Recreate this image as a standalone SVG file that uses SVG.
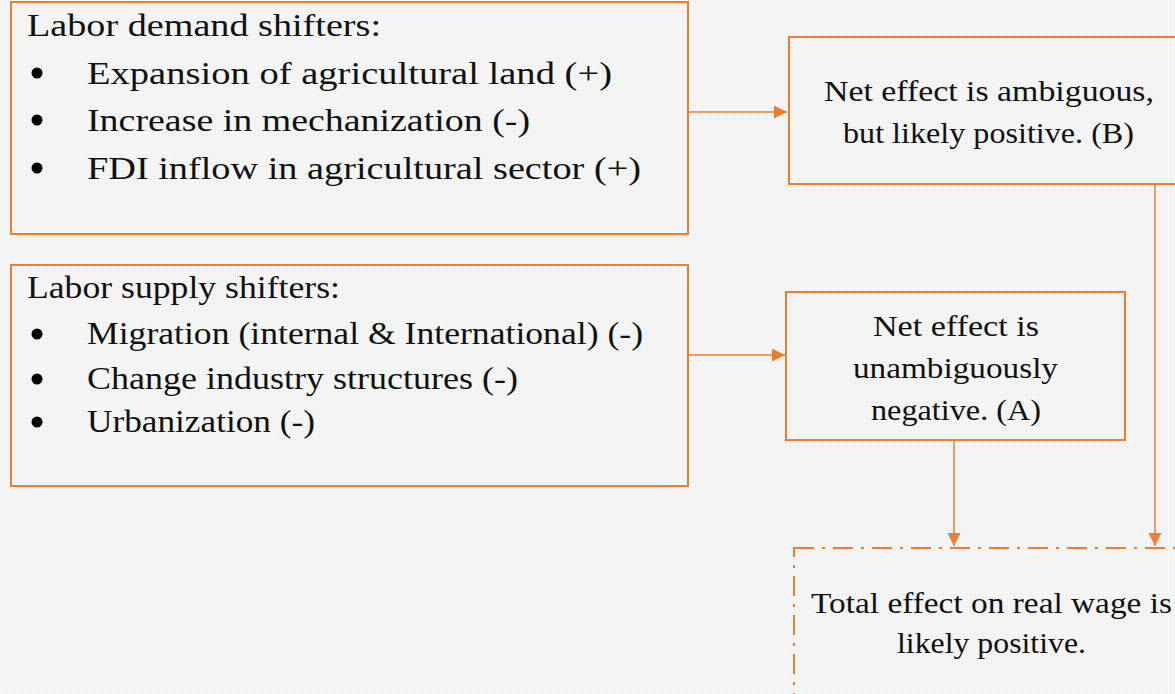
<svg xmlns="http://www.w3.org/2000/svg" width="1175" height="694" viewBox="0 0 1175 694">
<defs>
<pattern id="grid" width="4" height="4" patternUnits="userSpaceOnUse">
<rect width="4" height="4" fill="#f1f1f1"/>
<path d="M0 0.5H4M0.5 0V4" stroke="#f7f7f7" stroke-width="1"/>
</pattern>
<marker id="arrL" viewBox="0 0 10 10" refX="10" refY="5" markerWidth="13" markerHeight="13" markerUnits="userSpaceOnUse" orient="auto">
<path d="M0 0L10 5L0 10Z" fill="#ED7D31"/>
</marker>
</defs>
<style>
.box{fill:none;stroke:#ED7D31;stroke-width:2}
.dash{fill:none;stroke:#ED7D31;stroke-width:2;stroke-dasharray:20 8 3 8}
.t{font-family:"Liberation Serif",serif;font-size:32px;fill:#111}
.c{font-family:"Liberation Serif",serif;font-size:30px;fill:#111;text-anchor:middle}
.con{stroke:#ED7D31;stroke-width:1.5;fill:none;marker-end:url(#arrL)}
</style>
<rect width="1175" height="694" fill="url(#grid)"/>
<g id="demand">
<rect class="box" x="11" y="2" width="677" height="232"/>
<text class="t" x="27" y="36" textLength="354" lengthAdjust="spacingAndGlyphs">Labor demand shifters:</text>
<circle cx="37" cy="73" r="5.5" fill="#000"/>
<text class="t" x="87" y="84" textLength="525" lengthAdjust="spacingAndGlyphs">Expansion of agricultural land (+)</text>
<circle cx="37" cy="120" r="5.5" fill="#000"/>
<text class="t" x="87" y="131" textLength="443" lengthAdjust="spacingAndGlyphs">Increase in mechanization (-)</text>
<circle cx="37" cy="168" r="5.5" fill="#000"/>
<text class="t" x="87" y="179" textLength="554" lengthAdjust="spacingAndGlyphs">FDI inflow in agricultural sector (+)</text>
</g>
<g id="supply">
<rect class="box" x="11" y="265" width="677" height="221"/>
<text class="t" x="27" y="298" textLength="313" lengthAdjust="spacingAndGlyphs">Labor supply shifters:</text>
<circle cx="37" cy="334" r="5.5" fill="#000"/>
<text class="t" x="87" y="344" textLength="556" lengthAdjust="spacingAndGlyphs">Migration (internal &amp; International) (-)</text>
<circle cx="37" cy="379" r="5.5" fill="#000"/>
<text class="t" x="87" y="389" textLength="431" lengthAdjust="spacingAndGlyphs">Change industry structures (-)</text>
<circle cx="37" cy="422" r="5.5" fill="#000"/>
<text class="t" x="87" y="432" textLength="228" lengthAdjust="spacingAndGlyphs">Urbanization (-)</text>
</g>
<g id="netB">
<rect class="box" x="789" y="37" width="392" height="147"/>
<text class="c" x="989" y="101" textLength="330" lengthAdjust="spacingAndGlyphs">Net effect is ambiguous,</text>
<text class="c" x="988.5" y="143" textLength="291" lengthAdjust="spacingAndGlyphs">but likely positive. (B)</text>
</g>
<g id="netA">
<rect class="box" x="786" y="292" width="339" height="148"/>
<text class="c" x="956" y="336" textLength="166" lengthAdjust="spacingAndGlyphs">Net effect is</text>
<text class="c" x="955.5" y="378" textLength="205" lengthAdjust="spacingAndGlyphs">unambiguously</text>
<text class="c" x="956" y="420" textLength="170" lengthAdjust="spacingAndGlyphs">negative. (A)</text>
</g>
<g id="total">
<rect class="dash" x="794" y="548" width="400" height="170"/>
<text class="c" x="991.5" y="613" textLength="361" lengthAdjust="spacingAndGlyphs">Total effect on real wage is</text>
<text class="c" x="991.5" y="653" textLength="189" lengthAdjust="spacingAndGlyphs">likely positive.</text>
</g>
<g id="connectors">
<path class="con" d="M689 112H787"/>
<path class="con" d="M689 355H785"/>
<path class="con" d="M954 441V546"/>
<path class="con" d="M1155 185V546"/>
</g>
</svg>
